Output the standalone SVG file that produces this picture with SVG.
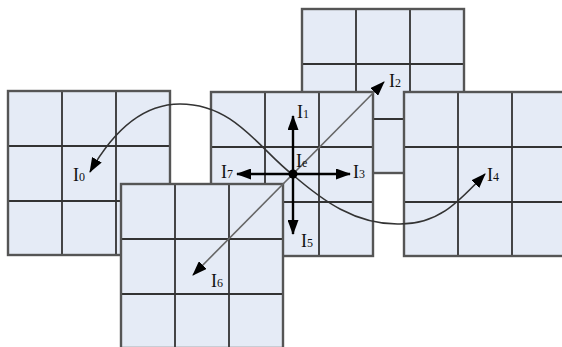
<svg xmlns="http://www.w3.org/2000/svg" xmlns:xlink="http://www.w3.org/1999/xlink" width="562" height="347" viewBox="0 0 562 347">
<style>
.fill{fill:#E5EBF6;stroke:none}
.inner{fill:none;stroke:#333;stroke-width:1.8}
.border{fill:none;stroke:#555;stroke-width:2.4}
.lbl{font-family:"Liberation Serif","Times New Roman",serif;font-size:18px;fill:#111}
.sub{font-size:12px}
.axis{stroke:#000;stroke-width:2.4;fill:none}
.diag{stroke:#666;stroke-width:1.6;fill:none}
.curve{stroke:#333;stroke-width:1.6;fill:none}
</style>
<defs>
<marker id="ah" markerUnits="userSpaceOnUse" markerWidth="15" markerHeight="11" refX="14" refY="5.5" orient="auto-start-reverse" viewBox="0 0 15 11">
<path d="M0,0 L15,5.5 L0,11 z" fill="#000"/>
</marker>
<g id="grid">
<rect x="0" y="0" width="162" height="164" class="fill"/>
<path d="M54 0V164M108 0V164M0 55H162M0 110H162" class="inner"/>
<rect x="0" y="0" width="162" height="164" class="border"/>
</g>
</defs>
<rect width="562" height="347" fill="#fff"/>
<g id="grid-top"><use xlink:href="#grid" x="302" y="9"/></g>
<g id="grid-left"><use xlink:href="#grid" x="8" y="91"/></g>
<g id="grid-right"><use xlink:href="#grid" x="404" y="92"/></g>
<g id="grid-center"><use xlink:href="#grid" x="211" y="92"/></g>
<g id="grid-bottom"><use xlink:href="#grid" x="121" y="184"/></g>
<g id="connectors">
<path class="curve" d="M90 172 C115 128,145 104,180 104 C235 104,260 150,293 175 C322 200,355 225,400 224 C440 224,460 200,485 174" marker-start="url(#ah)" marker-end="url(#ah)"/>
<line class="diag" x1="193" y1="275" x2="384" y2="82" marker-start="url(#ah)" marker-end="url(#ah)"/>
<line class="axis" x1="293" y1="174" x2="293" y2="116" marker-end="url(#ah)"/>
<line class="axis" x1="293" y1="174" x2="350" y2="174" marker-end="url(#ah)"/>
<line class="axis" x1="293" y1="174" x2="237" y2="174" marker-end="url(#ah)"/>
<line class="axis" x1="293" y1="174" x2="293" y2="234" marker-end="url(#ah)"/>
</g>
<g id="node-center">
<circle cx="293" cy="174" r="4.5" fill="#000"/>
<text class="lbl" x="296" y="167">I<tspan class="sub">e</tspan></text>
</g>
<g id="labels">
<text class="lbl" x="73" y="181">I<tspan class="sub">0</tspan></text>
<text class="lbl" x="297" y="118">I<tspan class="sub">1</tspan></text>
<text class="lbl" x="389" y="87">I<tspan class="sub">2</tspan></text>
<text class="lbl" x="353" y="178">I<tspan class="sub">3</tspan></text>
<text class="lbl" x="487" y="181">I<tspan class="sub">4</tspan></text>
<text class="lbl" x="301" y="247">I<tspan class="sub">5</tspan></text>
<text class="lbl" x="211" y="287">I<tspan class="sub">6</tspan></text>
<text class="lbl" x="221" y="178">I<tspan class="sub">7</tspan></text>
</g>
</svg>
